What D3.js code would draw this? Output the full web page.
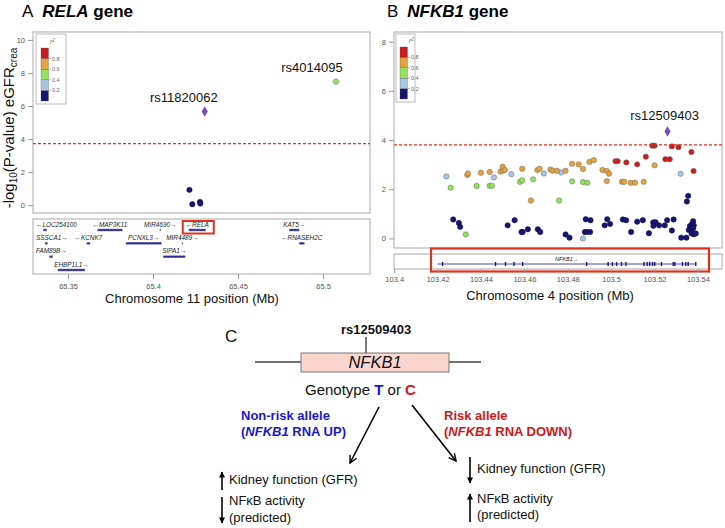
<!DOCTYPE html>
<html><head><meta charset="utf-8">
<script src="https://cdn.jsdelivr.net/npm/d3@7"></script>
<style>
body{margin:0;background:#fff}
svg{display:block}
text{font-family:"Liberation Sans",Arial,Helvetica,sans-serif}
</style>
</head><body>
<svg id="c" width="725" height="528"></svg>
<script>
// ---------------- DATA ----------------
const r2Breaks = [0, 0.2, 0.4, 0.6, 0.8, 1.0];
const r2Colors = ["#16166e", "#a7c6e6", "#90e35a", "#e5a33e", "#cc1b1b"];
const legendTicks = [0.2, 0.4, 0.6, 0.8];
const leadColor = "#7a4cc2";

// Panel A: RELA region (chr11)
const relaPos  = [65.4214, 65.4231, 65.4276, 65.4278, 65.5076];
const relaLogP = [0.93, 0.06, 0.20, 0.10, 7.48];
const relaR2   = [0.1, 0.1, 0.1, 0.1, 0.5];
const relaLeadPos = 65.4304, relaLeadLogP = 5.67;
const relaLabels = ["rs11820062", "rs4014095"];
const relaLabelPos = [65.4304, 65.5076];
const relaLabelLogP = [5.67, 7.48];
const relaThreshold = 3.73;
const relaYTicks = [0, 2, 4, 6, 8, 10];
const relaXTicks = [65.35, 65.4, 65.45, 65.5];

const geneNames  = ["LOC254100","MAP3K11","MIR4690","RELA","KAT5","SSSCA1","KCNK7","PCNXL3","MIR4489","RNASEH2C","FAM89B","SIPA1","EHBP1L1"];
const geneStart  = [65.3355, 65.3672, 65.4040, 65.4210, 65.4800, 65.3365, 65.3610, 65.3840, 65.4170, 65.4860, 65.3390, 65.4060, 65.3440];
const geneEnd    = [65.3375, 65.3820, 65.4045, 65.4310, 65.4860, 65.3380, 65.3630, 65.4050, 65.4175, 65.4890, 65.3410, 65.4190, 65.3600];
const geneStrand = ["-","-","+","-","+","+","-","+","+","-","+","+","+"];
const geneRow    = [0,0,0,0,0,1,1,1,1,1,2,2,3];

// Panel B: NFKB1 region (chr4)
const nfkbLightBluePos  = [103.424, 103.446, 103.454, 103.469, 103.477, 103.532, 103.487];
const nfkbLightBlueLogP = [2.52, 2.48, 2.61, 2.64, 2.68, 2.63, 0.00];
const nfkbGreenPos  = [103.426, 103.438, 103.444, 103.445, 103.433, 103.458, 103.459, 103.464, 103.476, 103.482, 103.487, 103.489];
const nfkbGreenLogP = [2.06, 2.13, 2.14, 2.14, 0.16, 2.30, 2.36, 2.40, 1.54, 2.32, 2.29, 2.26];
const nfkbOrangePos  = [103.4337, 103.434, 103.440, 103.444, 103.449, 103.450, 103.450, 103.451, 103.459, 103.466, 103.467, 103.472, 103.473, 103.475, 103.479, 103.482, 103.485, 103.487, 103.490, 103.492, 103.496, 103.498, 103.499, 103.498, 103.505, 103.506, 103.509, 103.511, 103.515, 103.520, 103.463];
const nfkbOrangeLogP = [2.58, 2.64, 2.67, 2.70, 2.72, 2.75, 2.91, 2.78, 2.83, 2.78, 2.83, 2.80, 2.75, 2.75, 2.75, 3.03, 3.01, 2.82, 3.11, 3.18, 2.78, 2.74, 2.63, 2.33, 2.30, 2.30, 2.26, 2.26, 2.30, 2.97, 1.54];
const nfkbRedPos  = [103.502, 103.503, 103.507, 103.512, 103.516, 103.519, 103.520, 103.525, 103.527, 103.528, 103.531, 103.537, 103.538];
const nfkbRedLogP = [3.14, 3.14, 3.09, 3.01, 3.32, 3.77, 3.77, 3.22, 3.22, 3.74, 3.71, 3.51, 2.74];
const nfkbNavyPos  = [103.4272, 103.4298, 103.4304, 103.4523, 103.4555, 103.4587, 103.4592, 103.4616, 103.4662, 103.4673, 103.4790, 103.4808, 103.4883, 103.4905, 103.4879, 103.4889, 103.4903, 103.4982, 103.4995, 103.4970, 103.5054, 103.5069, 103.5092, 103.5120, 103.5146, 103.5174, 103.5194, 103.5205, 103.5195, 103.5221, 103.5247, 103.5258, 103.5280, 103.5288, 103.5323, 103.5347, 103.5355, 103.5349, 103.5378, 103.5371, 103.5381, 103.5363, 103.5375, 103.5358, 103.5367, 103.5378, 103.5371, 103.5381, 103.5390];
const nfkbNavyLogP = [0.77, 0.63, 0.47, 0.53, 0.74, 0.26, 0.26, 0.37, 0.37, 0.26, 0.16, 0.03, 0.78, 0.74, 0.26, 0.26, 0.26, 0.78, 0.59, 0.53, 0.77, 0.74, 0.26, 0.68, 0.74, 0.21, 0.65, 0.66, 0.51, 0.53, 0.53, 0.74, 0.32, 0.77, 0.03, 0.03, 1.73, 1.50, 0.70, 0.57, 0.53, 0.50, 0.45, 0.34, 0.34, 0.41, 0.20, 0.17, 0.20];
const nfkbLeadPos = 103.526, nfkbLeadLogP = 4.35;
const nfkbLabel = "rs12509403";
const nfkbThreshold = 3.80;
const nfkbYTicks = [0, 2, 4, 6, 8];
const nfkbXTicks = [103.4, 103.42, 103.44, 103.46, 103.48, 103.5, 103.52, 103.54];
const nfkbGeneStart = 103.420, nfkbGeneEnd = 103.539;
const nfkbExons = [103.4223, 103.4467, 103.4513, 103.4552, 103.4592, 103.4887, 103.4986, 103.5006, 103.5025, 103.5048, 103.5068, 103.5151, 103.5166, 103.5178, 103.5191, 103.5201, 103.5232, 103.5286, 103.5294, 103.5329, 103.5344, 103.5355, 103.5390];

// ---------------- HELPERS ----------------
const svg = d3.select("#c");
const colorOf = d3.scaleThreshold().domain(r2Breaks.slice(1, 5)).range(r2Colors);
const GRAY = "#999";
const THR = "#e2301c";

function panelTitle(x, letter, gene) {
  const t = svg.append("text").attr("x", x).attr("y", 16.5).attr("font-size", 17).attr("fill", "#000");
  t.append("tspan").text(letter);
  t.append("tspan").attr("dx", 9).attr("font-weight", "bold").attr("font-style", "italic").text(gene);
  t.append("tspan").attr("font-weight", "bold").text(" gene");
}

function yAxis(x, y, ticks) {
  const g = svg.append("g").attr("transform", `translate(${x.range()[0]},0)`)
    .call(d3.axisLeft(y).tickValues(ticks).tickSize(5).tickPadding(3).tickFormat(d3.format("d")));
  g.select(".domain").remove();
  g.selectAll("line").attr("stroke", GRAY);
  g.selectAll("text").attr("font-size", 7.5).attr("fill", "#555").style("font-family", '"Liberation Sans",Arial,sans-serif');
}

function xAxis(x, yPos, ticks, size, pad) {
  const g = svg.append("g").attr("transform", `translate(0,${yPos})`)
    .call(d3.axisBottom(x).tickValues(ticks).tickSize(size).tickPadding(pad).tickFormat(d => String(+d.toFixed(2))));
  g.select(".domain").remove();
  g.selectAll("line").attr("stroke", GRAY);
  g.selectAll("text").attr("font-size", 7.5).attr("fill", "#555").style("font-family", '"Liberation Sans",Arial,sans-serif');
}

function frame(x0, x1, y0, y1) {
  svg.append("rect").attr("x", x0).attr("y", y0).attr("width", x1 - x0).attr("height", y1 - y0)
    .attr("fill", "none").attr("stroke", "#aaa").attr("stroke-width", 1);
}

function points(x, y, pos, logp, r2) {
  svg.append("g").selectAll("circle").data(pos.map((p, i) => ({p, v: logp[i], r: r2[i]}))).join("circle")
    .attr("cx", d => x(d.p)).attr("cy", d => y(d.v)).attr("r", 2.7)
    .attr("fill", d => colorOf(d.r)).attr("stroke", d => d.r < 0.2 ? "#0c0c50" : "#6a6a6a").attr("stroke-width", 0.5);
}

function lead(x, y, p, v) {
  svg.append("path").attr("d", d3.symbol(d3.symbolDiamond, 26)()).attr("transform", `translate(${x(p)},${y(v)})`)
    .attr("fill", leadColor).attr("stroke", "#4a2a88").attr("stroke-width", 0.4);
}

function legend(bx, by, bw, bh, barX, barTop, barBot) {
  svg.append("rect").attr("x", bx).attr("y", by).attr("width", bw).attr("height", bh)
    .attr("fill", "#fff").attr("stroke", "#aaa").attr("stroke-width", 0.8);
  const ly = d3.scaleLinear().domain([0, 1]).range([barBot, barTop]);
  const bars = r2Breaks.slice(0, 5).map((b, i) => ({lo: b, hi: r2Breaks[i + 1], c: r2Colors[i]}));
  svg.append("g").selectAll("rect").data(bars).join("rect")
    .attr("x", barX).attr("width", 7.5).attr("y", d => ly(d.hi)).attr("height", d => ly(d.lo) - ly(d.hi))
    .attr("fill", d => d.c).attr("stroke", "#555").attr("stroke-width", 0.3);
  const tg = svg.append("g");
  tg.selectAll("line").data(legendTicks).join("line")
    .attr("x1", barX + 7.5).attr("x2", barX + 10).attr("y1", d => ly(d)).attr("y2", d => ly(d)).attr("stroke", "#777").attr("stroke-width", 0.5);
  tg.selectAll("text").data(legendTicks).join("text")
    .attr("x", barX + 11).attr("y", d => ly(d) + 2).attr("font-size", 5.5).attr("fill", "#666").text(d => d.toFixed(1));
  const t = svg.append("text").attr("x", barX + 9).attr("y", barTop - 4).attr("font-size", 6.5).attr("fill", "#666").attr("font-style", "italic");
  t.append("tspan").text("r");
  t.append("tspan").attr("dy", -2.5).attr("font-size", 4.5).text("2");
}

function threshold(x, y, v) {
  svg.append("path")
    .attr("d", d3.line()([[x.range()[0], y(v)], [x.range()[1], y(v)]]))
    .style("stroke", THR).style("stroke-width", "1.1px").style("stroke-dasharray", "3,2").style("fill", "none");
}

// ---------------- PANEL A ----------------
panelTitle(22, "A", "RELA");
const xA = d3.scaleLinear().domain([65.3294, 65.5276]).range([33, 370]);
const yA = d3.scaleLinear().domain([-0.47, 10.48]).range([213, 32]);
frame(33, 370, 32, 213);
yAxis(xA, yA, relaYTicks);
points(xA, yA, relaPos, relaLogP, relaR2);
threshold(xA, yA, relaThreshold);
lead(xA, yA, relaLeadPos, relaLeadLogP);
svg.append("g").selectAll("text").data(relaLabels).join("text")
  .attr("x", (d, i) => xA(relaLabelPos[i])).attr("y", (d, i) => yA(relaLabelLogP[i]) - 10)
  .attr("text-anchor", (d, i) => i === 0 ? "end" : "middle")
  .attr("dx", (d, i) => i === 0 ? 13 : -24)
  .attr("font-size", 13).attr("fill", "#111").text(d => d);
legend(36, 34, 30, 70, 41, 48, 101);

// y title
const yt = svg.append("text").attr("transform", "translate(14,128) rotate(-90)").attr("text-anchor", "middle")
  .attr("font-size", 15).attr("fill", "#111");
yt.append("tspan").text("-log");
yt.append("tspan").attr("font-size", 10).attr("dy", 3).text("10");
yt.append("tspan").attr("dy", -3).text("(P-value) eGFR");
yt.append("tspan").attr("font-size", 10).attr("dy", 3).text("crea");

// gene track A
frame(33, 370, 219, 274);
const rowBarY = d3.scaleLinear().domain([0, 3]).range([230, 270]);
const genes = geneNames.map((n, i) => ({n, s: geneStart[i], e: geneEnd[i], st: geneStrand[i], r: geneRow[i]}));
const gg = svg.append("g");
gg.selectAll("line").data(genes).join("line")
  .attr("x1", d => xA(d.s)).attr("x2", d => xA(d.e)).attr("y1", d => rowBarY(d.r)).attr("y2", d => rowBarY(d.r))
  .attr("stroke", "#2a2a95").attr("stroke-width", 0.8);
gg.selectAll("rect").data(genes).join("rect")
  .attr("x", d => xA(d.s)).attr("width", d => Math.max(1, xA(d.e) - xA(d.s)))
  .attr("y", d => rowBarY(d.r) - 1.2).attr("height", 2.4).attr("fill", "#2a2a95")
  .attr("stroke", "#fff").attr("stroke-width", 0.4).attr("stroke-dasharray", "2.5,1");
gg.selectAll("text").data(genes).join("text")
  .attr("x", d => xA((d.s + d.e) / 2)).attr("y", d => rowBarY(d.r) - 3.5)
  .attr("text-anchor", "middle").attr("font-size", 6.4).attr("font-style", "italic").attr("fill", "#222")
  .text(d => d.st === "+" ? d.n + "\u2192" : "\u2190" + d.n)
  .each(function() {
    const bb = this.getBBox();
    if (bb.x < 36) d3.select(this).attr("x", +d3.select(this).attr("x") + (36 - bb.x));
  });
// RELA highlight
const relaIdx = geneNames.indexOf("RELA");
svg.append("rect").attr("x", xA(geneStart[relaIdx]) - 6).attr("y", 221).attr("width", xA(geneEnd[relaIdx]) - xA(geneStart[relaIdx]) + 14).attr("height", 12.5)
  .attr("fill", "none").attr("stroke", "#e0321a").attr("stroke-width", 2);
xAxis(xA, 274, relaXTicks, 5, 5);
svg.append("text").attr("x", 192).attr("y", 303).attr("text-anchor", "middle").attr("font-size", 13).attr("fill", "#111")
  .text("Chromosome 11 position (Mb)");

// ---------------- PANEL B ----------------
panelTitle(387, "B", "NFKB1");
const xB = d3.scaleLinear().domain([103.3999, 103.5511]).range([394, 722]);
const yB = d3.scaleLinear().domain([-0.39, 8.39]).range([248, 32]);
frame(394, 722, 32, 248);
yAxis(xB, yB, nfkbYTicks);
points(xB, yB, nfkbNavyPos, nfkbNavyLogP, nfkbNavyPos.map(() => 0.1));
points(xB, yB, nfkbLightBluePos, nfkbLightBlueLogP, nfkbLightBluePos.map(() => 0.3));
points(xB, yB, nfkbGreenPos, nfkbGreenLogP, nfkbGreenPos.map(() => 0.5));
points(xB, yB, nfkbOrangePos, nfkbOrangeLogP, nfkbOrangePos.map(() => 0.7));
points(xB, yB, nfkbRedPos, nfkbRedLogP, nfkbRedPos.map(() => 0.9));
threshold(xB, yB, nfkbThreshold);
lead(xB, yB, nfkbLeadPos, nfkbLeadLogP);
svg.append("text").attr("x", xB(nfkbLeadPos) - 3).attr("y", yB(nfkbLeadLogP) - 11).attr("text-anchor", "middle")
  .attr("font-size", 13).attr("fill", "#111").text(nfkbLabel);
legend(396, 34, 19, 68, 400, 47, 99);

// gene track B
frame(394, 722, 254, 269);
svg.append("line").attr("x1", xB(nfkbGeneStart)).attr("x2", xB(nfkbGeneEnd)).attr("y1", 264).attr("y2", 264)
  .attr("stroke", "#1b1b8a").attr("stroke-width", 0.8);
svg.append("g").selectAll("rect").data(nfkbExons).join("rect")
  .attr("x", d => xB(d) - 0.7).attr("width", 1.4).attr("y", 262).attr("height", 4).attr("fill", "#1b1b8a");
svg.append("text").attr("x", xB((nfkbGeneStart + nfkbGeneEnd) / 2)).attr("y", 261).attr("text-anchor", "middle")
  .attr("font-size", 5.5).attr("font-style", "italic").attr("fill", "#222").text("NFKB1\u2192");
svg.append("rect").attr("x", 431).attr("y", 248.5).attr("width", 278).attr("height", 23)
  .attr("fill", "none").attr("stroke", "#e0321a").attr("stroke-width", 2.2);
xAxis(xB, 269, nfkbXTicks, 4, 4);
svg.append("text").attr("x", 550).attr("y", 300).attr("text-anchor", "middle").attr("font-size", 13).attr("fill", "#111")
  .text("Chromosome 4 position (Mb)");

// ---------------- PANEL C ----------------
const defs = svg.append("defs");
defs.append("marker").attr("id", "open").attr("viewBox", "0 0 10 10").attr("refX", 9).attr("refY", 5)
  .attr("markerWidth", 9).attr("markerHeight", 9).attr("markerUnits", "userSpaceOnUse").attr("orient", "auto")
  .append("path").attr("d", "M1,1 L9,5 L1,9").attr("fill", "none").attr("stroke", "#000").attr("stroke-width", 1.6);
defs.append("marker").attr("id", "solid").attr("viewBox", "0 0 10 10").attr("refX", 9).attr("refY", 5)
  .attr("markerWidth", 7).attr("markerHeight", 6).attr("markerUnits", "userSpaceOnUse").attr("orient", "auto")
  .append("path").attr("d", "M0,0 L10,5 L0,10 Z").attr("fill", "#000");

svg.append("text").attr("x", 225).attr("y", 342).attr("font-size", 17).attr("fill", "#111").text("C");
svg.append("text").attr("x", 341).attr("y", 334).attr("font-size", 13).attr("font-weight", "bold").attr("fill", "#111").text("rs12509403");
svg.append("line").attr("x1", 366).attr("x2", 366).attr("y1", 337).attr("y2", 353).attr("stroke", "#333").attr("stroke-width", 1.3);
svg.append("line").attr("x1", 255).attr("x2", 481).attr("y1", 362).attr("y2", 362).attr("stroke", "#444").attr("stroke-width", 1.3);
svg.append("rect").attr("x", 301).attr("y", 353).attr("width", 148).attr("height", 19)
  .attr("fill", "#f8d6cd").attr("stroke", "#777").attr("stroke-width", 1);
svg.append("text").attr("x", 375).attr("y", 368).attr("text-anchor", "middle").attr("font-size", 16.5).attr("font-style", "italic").attr("fill", "#111").text("NFKB1");

const gt = svg.append("text").attr("x", 305).attr("y", 395).attr("font-size", 15).attr("fill", "#111");
gt.append("tspan").text("Genotype ");
gt.append("tspan").attr("font-weight", "bold").attr("fill", "#1414d8").text("T");
gt.append("tspan").text(" or ");
gt.append("tspan").attr("font-weight", "bold").attr("fill", "#d81414").text("C");

const BLUE = "#1818d6", RED = "#d41616";
svg.append("text").attr("x", 241).attr("y", 420).attr("font-size", 13).attr("font-weight", "bold").attr("fill", BLUE).text("Non-risk allele");
const nb = svg.append("text").attr("x", 241).attr("y", 436).attr("font-size", 13).attr("font-weight", "bold").attr("fill", BLUE);
nb.append("tspan").text("(");
nb.append("tspan").attr("font-style", "italic").text("NFKB1");
nb.append("tspan").text(" RNA UP)");
svg.append("text").attr("x", 444).attr("y", 420).attr("font-size", 13).attr("font-weight", "bold").attr("fill", RED).text("Risk allele");
const rb = svg.append("text").attr("x", 444).attr("y", 436).attr("font-size", 13).attr("font-weight", "bold").attr("fill", RED);
rb.append("tspan").text("(");
rb.append("tspan").attr("font-style", "italic").text("NFKB1");
rb.append("tspan").text(" RNA DOWN)");

svg.append("line").attr("x1", 379).attr("y1", 407).attr("x2", 350).attr("y2", 463).attr("stroke", "#000").attr("stroke-width", 1.6).attr("marker-end", "url(#open)");
svg.append("line").attr("x1", 412).attr("y1", 405).attr("x2", 456).attr("y2", 461).attr("stroke", "#000").attr("stroke-width", 1.6).attr("marker-end", "url(#open)");

function varrow(x, yFrom, yTo) {
  svg.append("line").attr("x1", x).attr("x2", x).attr("y1", yFrom).attr("y2", yTo).attr("stroke", "#000").attr("stroke-width", 1.6).attr("marker-end", "url(#solid)");
}
varrow(222, 490, 472);
varrow(222, 497, 523);
varrow(470, 457, 483);
varrow(470, 522, 494);

function effect(x, y1, y2, y3) {
  svg.append("text").attr("x", x).attr("y", y1).attr("font-size", 13).attr("fill", "#111").text("Kidney function (GFR)");
  svg.append("text").attr("x", x).attr("y", y2).attr("font-size", 13).attr("fill", "#111").text("NF\u03baB activity");
  svg.append("text").attr("x", x).attr("y", y3).attr("font-size", 13).attr("fill", "#111").text("(predicted)");
}
effect(229, 484, 505, 522);
effect(477, 473, 503, 519);
</script>
</body></html>
